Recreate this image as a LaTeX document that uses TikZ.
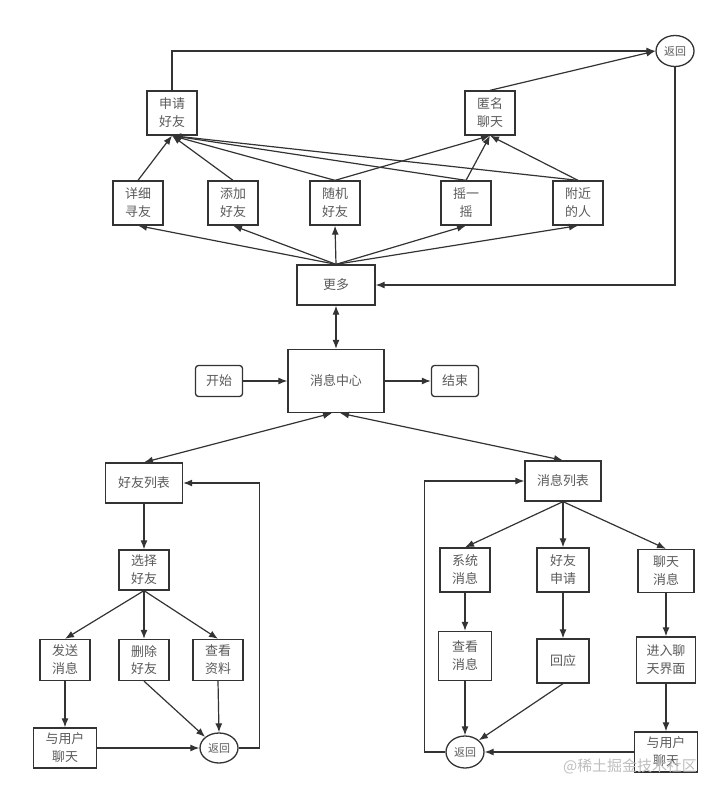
\documentclass[tikz,border=0pt]{standalone}
\usepackage{fontspec}
\setmainfont{Noto Sans CJK SC}
\usetikzlibrary{arrows.meta,positioning,shapes.geometric}
\definecolor{flowLine}{RGB}{51,51,51}
\definecolor{flowText}{RGB}{90,90,90}
\definecolor{flowMark}{RGB}{190,190,190}

\begin{document}
\begin{tikzpicture}[x=1bp, y=-1bp,
    box/.style={rectangle, draw=flowLine, fill=white, line width=1.3bp,
                font=\fontsize{13}{18}\selectfont, text=flowText, align=center,
                inner sep=0pt, minimum width=50bp, minimum height=44bp},
    term/.style={box, rounded corners=3bp, minimum width=47bp, minimum height=31bp},
    retn/.style={ellipse, draw=flowLine, fill=white, line width=1.3bp,
                 font=\fontsize{11}{12}\selectfont, text=flowText, inner sep=0pt,
                 minimum width=38bp, minimum height=31bp},
    arr/.style={-{Latex[length=9bp,width=7bp]}, flowLine, line width=1.2bp},
    arrboth/.style={{Latex[length=9bp,width=7bp]}-{Latex[length=9bp,width=7bp]},
                    flowLine, line width=1.2bp}
  ]
  \useasboundingbox (0,0) rectangle (720,795);

  \node[retn] (back1)  at (675, 51) {返回};
  \node[box]  (apply)  at (172,113) {申请\\好友};
  \node[box]  (anon)   at (490,113) {匿名\\聊天};
  \node[box]  (detail) at (138,203) {详细\\寻友};
  \node[box]  (add)    at (233,203) {添加\\好友};
  \node[box]  (random) at (335,203) {随机\\好友};
  \node[box]  (shake)  at (466,203) {摇一\\摇};
  \node[box]  (nearby) at (578,203) {附近\\的人};
  \node[box, minimum width=78bp, minimum height=40bp] (more) at (336,285) {更多};

  \node[box, minimum width=96bp, minimum height=63bp] (center) at (336,381) {消息中心};
  \node[term] (start) at (219,381) {开始};
  \node[term] (stop)  at (455,381) {结束};

  \node[box, minimum width=77bp, minimum height=40bp] (flist) at (144,483) {好友列表};
  \node[box, minimum height=40bp] (pick)  at (144,570) {选择\\好友};
  \node[box, minimum height=41bp] (send)  at ( 65,660) {发送\\消息};
  \node[box, minimum height=41bp] (del)   at (144,660) {删除\\好友};
  \node[box, minimum height=41bp] (info)  at (218,660) {查看\\资料};
  \node[box, minimum width=63bp, minimum height=40bp] (chatL) at (65,748) {与用户\\聊天};
  \node[retn, minimum height=30bp] (backL) at (219,748) {返回};

  \node[box, minimum width=76bp, minimum height=40bp] (mlist) at (563,481) {消息列表};
  \node[box] (sys)     at (465,570) {系统\\消息};
  \node[box, minimum width=52bp] (req) at (563,570) {好友\\申请};
  \node[box, minimum width=56bp, minimum height=43bp] (chatmsg) at (666,571) {聊天\\消息};
  \node[box, minimum width=53bp, minimum height=49bp] (view)  at (465,656) {查看\\消息};
  \node[box, minimum width=52bp] (reply) at (563,661) {回应};
  \node[box, minimum width=59bp, minimum height=46bp] (enter) at (666,660) {进入聊\\天界面};
  \node[box, minimum width=63bp, minimum height=40bp] (chatR) at (666,752) {与用户\\聊天};
  \node[retn, minimum height=32bp] (backR) at (465,752) {返回};

  \draw[arr] (more.north) -- (detail.south);
  \draw[arr] (more.north) -- (add.south);
  \draw[arr] (more.north) -- (random.south);
  \draw[arr] (more.north) -- (shake.south);
  \draw[arr] (more.north) -- (nearby.south);
  \draw[arr] (detail.north) -- (apply.south);
  \draw[arr] (add.north)    -- (apply.south);
  \draw[arr] (random.north) -- (apply.south);
  \draw[arr] (shake.north)  -- (apply.south);
  \draw[arr] (nearby.north) -- (apply.south);
  \draw[arr] (random.north) -- (anon.south);
  \draw[arr] (shake.north)  -- (anon.south);
  \draw[arr] (nearby.north) -- (anon.south);
  \draw[arr] (apply.north) |- (back1.west);
  \draw[arr] (anon.north) -- (back1.west);
  \draw[arr] (back1.south) |- (more.east);

  \draw[arrboth] (more.south) -- (center.north);
  \draw[arr] (start.east) -- (center.west);
  \draw[arr] (center.east) -- (stop.west);
  \draw[arrboth] ([xshift=-4bp]center.south) -- (flist.north);
  \draw[arrboth] ([xshift=4bp]center.south) -- (mlist.north);

  \draw[arr] (flist.south) -- (pick.north);
  \draw[arr] (pick.south) -- (send.north);
  \draw[arr] (pick.south) -- (del.north);
  \draw[arr] (pick.south) -- (info.north);
  \draw[arr] (send.south) -- (chatL.north);
  \draw[arr] (chatL.east) -- (backL.west);
  \draw[arr] (del.south)  -- (backL.north west);
  \draw[arr] (info.south) -- (backL.north);
  \draw[arr] (backL.east) -- ++(21,0) |- (flist.east);

  \draw[arr] (mlist.south) -- (sys.north);
  \draw[arr] (mlist.south) -- (req.north);
  \draw[arr] (mlist.south) -- (chatmsg.north);
  \draw[arr] (sys.south)   -- (view.north);
  \draw[arr] (view.south)  -- (backR.north);
  \draw[arr] (req.south)   -- (reply.north);
  \draw[arr] (reply.south) -- (backR.north east);
  \draw[arr] (chatmsg.south) -- (enter.north);
  \draw[arr] (enter.south) -- (chatR.north);
  \draw[arr] (chatR.west)  -- (backR.east);
  \draw[arr] (backR.west) -- ++(-21,0) |- (mlist.west);

  \node[font=\fontsize{15}{15}\selectfont, text=flowMark] (mark) at (630,766) {@稀土掘金技术社区};
\end{tikzpicture}
\end{document}
